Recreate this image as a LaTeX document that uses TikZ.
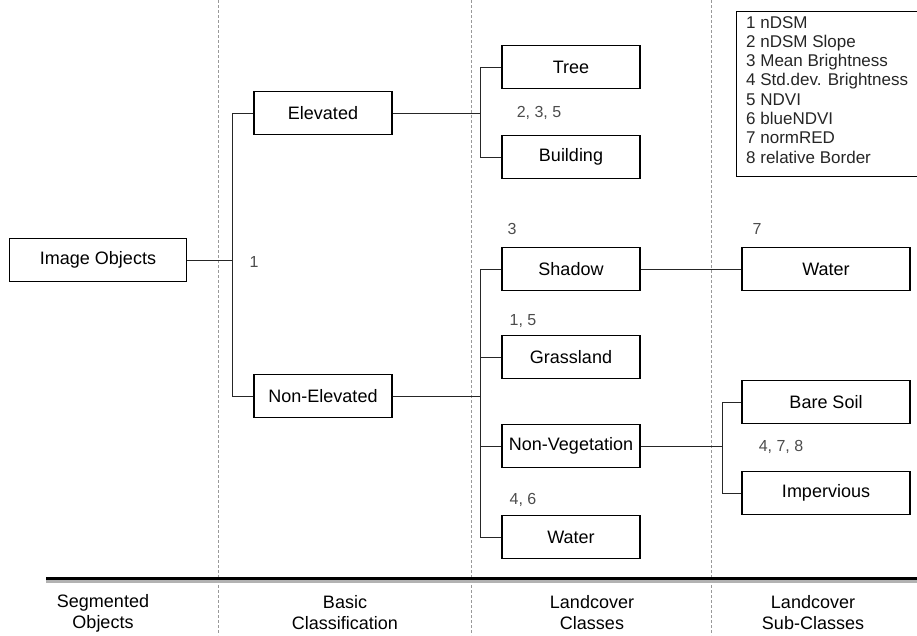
\documentclass[tikz,border=0pt]{standalone}
\usepackage{fontspec}
\setmainfont{Liberation Sans}
\usetikzlibrary{calc, positioning}
\tikzset{
  font=\fontsize{18}{21}\selectfont,
  % Class box
  cls/.style={draw, line width=1.4pt, fill=white, shape=rectangle,
    minimum width=138pt, minimum height=43pt, inner sep=0pt},
  % Sub-class box
  subcls/.style={cls, minimum width=168pt},
  % Connectors
  link/.style={draw=black!85, line width=0.9pt},
  % Feature numbers
  feat/.style={text=black!70, font=\fontsize{16}{18}\selectfont},
  % Column separators
  colsep/.style={draw=black!40, dash pattern=on 3pt off 2pt, line width=0.7pt},
  % Column titles
  coltitle/.style={align=center, font=\fontsize{18}{21}\selectfont},
}

\begin{document}
\begin{tikzpicture}[x=1pt, y=-1pt]
    \useasboundingbox (0,0) rectangle (917,635);

    % columns
    \foreach \x in {218,471,711}
      \draw[colsep] (\x,0) -- (\x,635);
    \draw[line width=3.5pt, black!30] (46,581) -- (917,581);
    \draw[line width=3pt] (46,578) -- (917,578);

    \node[coltitle] (tseg) at (103,613) {Segmented\\Objects};
    \node[coltitle] (tbasic) at (345,613) {Basic\\Classification};
    \node[coltitle] (tclass) at (592,613) {Landcover\\Classes};
    \node[coltitle] (tsub) at (813,613) {Landcover\\Sub-Classes};

    % boxes
    \node[cls, minimum width=177pt] (imgobj) at (98,260) {Image Objects};
    \node[cls] (elev) at (323,113) {Elevated};
    \node[cls] (nonelev) at (323,396) {Non-Elevated};
    \node[cls] (tree) at (571,67) {Tree};
    \node[cls] (build) at (571,157) {Building};
    \node[cls] (shadow) at (571,269) {Shadow};
    \node[cls] (grass) at (571,357) {Grassland};
    \node[cls] (nonveg) at (571,446) {Non-Vegetation};
    \node[cls] (water) at (571,537) {Water};
    \node[subcls] (subwater) at (826,269) {Water};
    \node[subcls] (baresoil) at (826,402) {Bare Soil};
    \node[subcls] (imperv) at (826,493) {Impervious};

    % junctions
    \coordinate (j1) at (232,260);
    \coordinate (j2) at (480,113);
    \coordinate (j3) at (480,396);
    \coordinate (j4) at (722,446);

    \draw[link] (imgobj) -- (j1);
    \draw[link] (elev.west) -| (j1);
    \draw[link] (nonelev.west) -| (j1);
    \draw[link] (elev) -- (j2);
    \draw[link] (tree.west) -| (j2);
    \draw[link] (build.west) -| (j2);
    \draw[link] (nonelev) -- (j3);
    \foreach \n in {shadow, grass, nonveg, water}
      \draw[link] (\n.west) -| (j3);
    \draw[link] (shadow) -- (subwater);
    \draw[link] (nonveg) -- (j4);
    \draw[link] (baresoil.west) -| (j4);
    \draw[link] (imperv.west) -| (j4);

    % feature numbers
    \node[feat] (f1) at (254,262) {1};
    \node[feat] (f235) at (539,113) {2, 3, 5};
    \node[feat] (f3) at (512,229) {3};
    \node[feat] (f15) at (523,321) {1, 5};
    \node[feat] (f46) at (523,500) {4, 6};
    \node[feat] (f7) at (757,229) {7};
    \node[feat] (f478) at (781,447) {4, 7, 8};

    % legend
    \draw[line width=0.8pt] (736,11) rectangle (940,176);
    \node[anchor=north west, align=left, inner sep=0pt,
      font=\fontsize{17}{19.3}\selectfont, text=black!85] (legend) at (746,16)
      {1 nDSM\\2 nDSM Slope\\3 Mean Brightness\\4 Std.dev. Brightness\\
       5 NDVI\\6 blueNDVI\\7 normRED\\8 relative Border};
\end{tikzpicture}
\end{document}
